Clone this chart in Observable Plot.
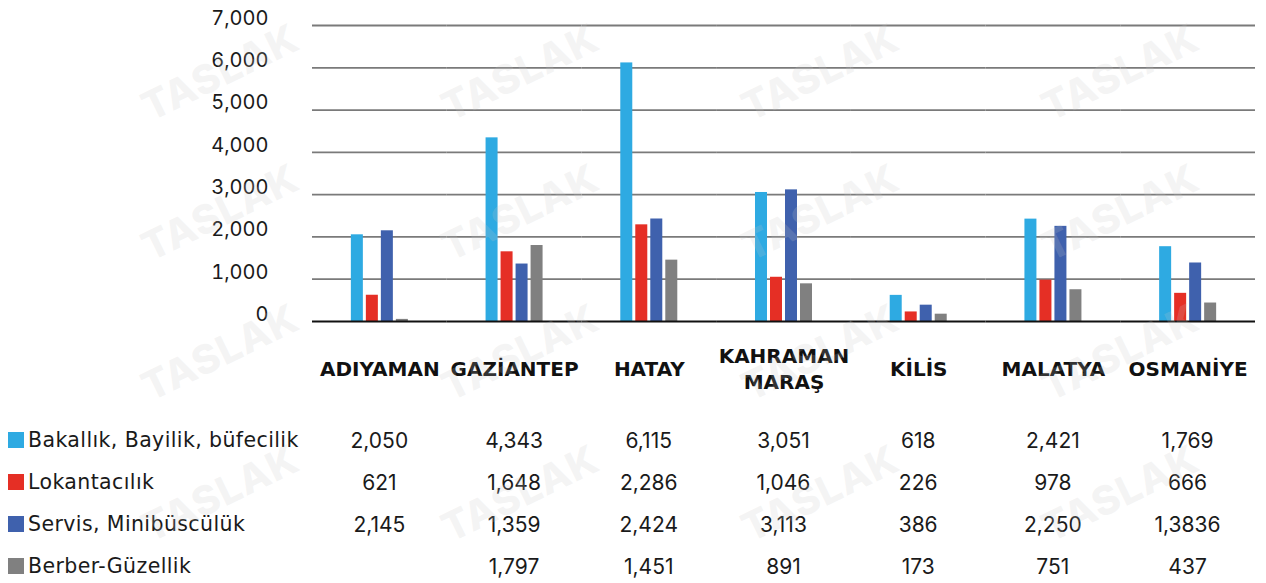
<!DOCTYPE html>
<html>
<head>
<meta charset="utf-8">
<script src="https://cdn.jsdelivr.net/npm/d3@7"></script>
<script src="https://cdn.jsdelivr.net/npm/@observablehq/plot@0.6"></script>
<style>
  html, body { margin: 0; padding: 0; overflow: hidden; background: #fff; }
  #wrap { position: relative; width: 1266px; height: 583px; font-family: Inter, "Noto Sans", sans-serif; color: #1a1a1a; }
  #chart { position: absolute; left: 0; top: 0; }
  #table { position: absolute; left: 0; top: 419px; width: 1266px; }
  .row { display: flex; height: 42px; align-items: center; font-size: 21px; }
  .leg { width: 312px; display: flex; align-items: center; white-space: nowrap; font-family: "DejaVu Sans", sans-serif; font-size: 20.5px; letter-spacing: 0.4px; }
  .sw { width: 16px; height: 16px; margin-left: 8px; margin-right: 4px; flex: none; }
  .val { width: 134.714px; text-align: center; }
  .wm { position: absolute; transform: translate(-50%, -50%) rotate(-26deg); font: 800 40px Inter, sans-serif;
        color: rgba(200,200,200,0.2); pointer-events: none; white-space: nowrap; letter-spacing: 1px; }
</style>
</head>
<body>
<div id="wrap">
  <div id="chart"></div>
  <div id="table"></div>
</div>
<script>
const provinces = ["ADIYAMAN", "GAZİANTEP", "HATAY", "KAHRAMANMARAŞ", "KİLİS", "MALATYA", "OSMANİYE"];
const provinceLabels = ["ADIYAMAN", "GAZİANTEP", "HATAY", "KAHRAMAN\nMARAŞ", "KİLİS", "MALATYA", "OSMANİYE"];
const series = ["Bakallık, Bayilik, büfecilik", "Lokantacılık", "Servis, Minibüscülük", "Berber-Güzellik"];
const colors = ["#2eaae2", "#e52f25", "#3f61ad", "#808080"];

const bakkal  = [2050, 4343, 6115, 3051, 618, 2421, 1769];
const lokanta = [621, 1648, 2286, 1046, 226, 978, 666];
const servis  = [2145, 1359, 2424, 3113, 386, 2250, 1383.6];
const berber  = [50, 1797, 1451, 891, 173, 751, 437];

const tableBakkal  = ["2,050", "4,343", "6,115", "3,051", "618", "2,421", "1,769"];
const tableLokanta = ["621", "1,648", "2,286", "1,046", "226", "978", "666"];
const tableServis  = ["2,145", "1,359", "2,424", "3,113", "386", "2,250", "1,3836"];
const tableBerber  = ["", "1,797", "1,451", "891", "173", "751", "437"];

const yTicks = [0, 1000, 2000, 3000, 4000, 5000, 6000, 7000];
const watermarkText = "TASLAK";

const seriesValues = [bakkal, lokanta, servis, berber];
const data = [];
seriesValues.forEach((arr, i) => arr.forEach((v, j) => data.push({province: provinces[j], series: series[i], value: v})));

const chart = Plot.plot({
  width: 1266,
  height: 400,
  marginLeft: 312,
  marginRight: 11,
  marginTop: 25,
  marginBottom: 79,
  style: {fontFamily: "Inter, 'Noto Sans', sans-serif", fontSize: "19px", color: "#1a1a1a", background: "transparent", overflow: "visible"},
  fx: {domain: provinces, padding: 0, axis: null, round: false},
  x: {domain: series, axis: null, paddingInner: 0.2, paddingOuter: 2.59, round: false},
  y: {domain: [0, 7000], axis: null},
  color: {domain: series, range: colors},
  marks: [
    Plot.ruleY(yTicks.filter(d => d > 0), {stroke: "#7a7a7a", strokeWidth: 1.8}),
    Plot.axisY({ticks: yTicks, tickFormat: d3.format(","), tickSize: 0, tickPadding: 44, dy: -7, label: null, fontSize: 20}),
    Plot.barY(data, {fx: "province", x: "series", y: "value", fill: "series"}),
    Plot.ruleY([0], {stroke: "#111", strokeWidth: 2}),
    Plot.text(provinces, {fx: d => d, text: (d, i) => provinceLabels[i], frameAnchor: "bottom", dy: 46,
      lineAnchor: "middle", lineHeight: 1.3, fontWeight: "bold", fontSize: 20, fill: "#111",
      fontFamily: "'DejaVu Sans', sans-serif"})
  ]
});
document.getElementById("chart").appendChild(chart);

const tableRows = [tableBakkal, tableLokanta, tableServis, tableBerber];
const table = document.getElementById("table");
tableRows.forEach((row, i) => {
  const r = document.createElement("div");
  r.className = "row";
  const leg = document.createElement("div");
  leg.className = "leg";
  const sw = document.createElement("span");
  sw.className = "sw";
  sw.style.background = colors[i];
  leg.appendChild(sw);
  leg.appendChild(document.createTextNode(series[i]));
  r.appendChild(leg);
  row.forEach(t => {
    const c = document.createElement("div");
    c.className = "val";
    c.textContent = t;
    r.appendChild(c);
  });
  table.appendChild(r);
});

const wrap = document.getElementById("wrap");
[220, 520, 820, 1120].forEach(x => [72, 212, 352, 493].forEach(y => {
  const w = document.createElement("div");
  w.className = "wm";
  w.style.left = x + "px";
  w.style.top = y + "px";
  w.textContent = watermarkText;
  wrap.appendChild(w);
}));
</script>
</body>
</html>
